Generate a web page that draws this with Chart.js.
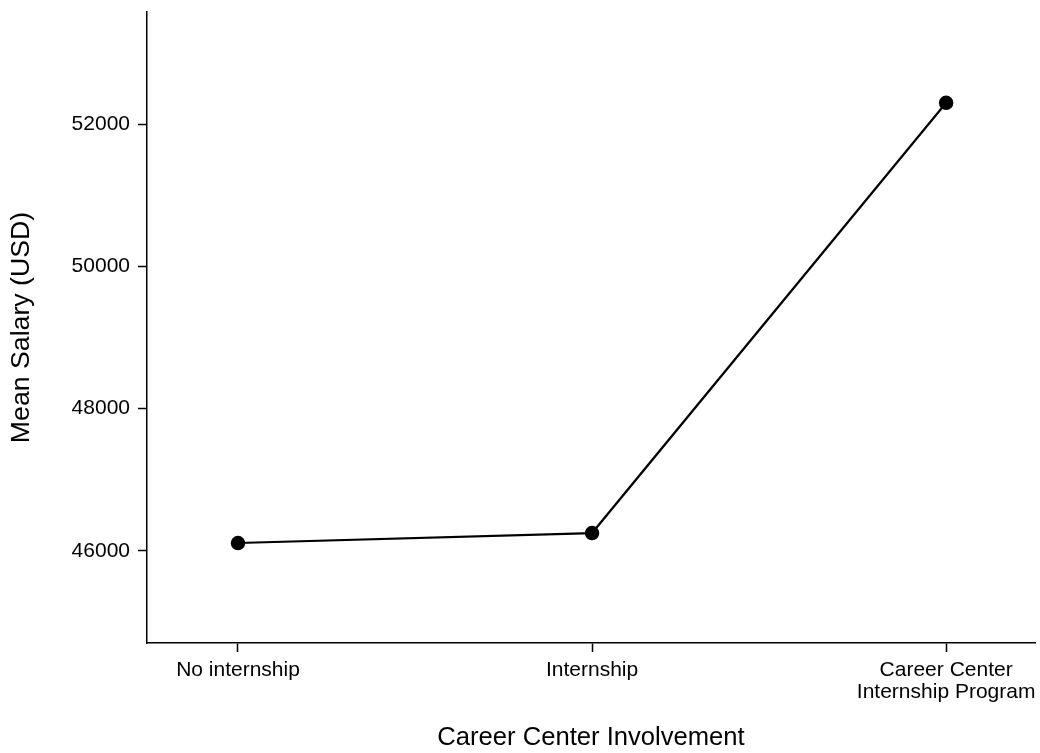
<!DOCTYPE html>
<html>
<head>
<meta charset="utf-8">
<script src="https://cdn.jsdelivr.net/npm/chart.js"></script>
<style>
  body { margin: 0; background: #fff; }
  canvas { display: block; }
</style>
</head>
<body>
<canvas id="chartSalary" width="1040" height="753"></canvas>
<script>
// categories and values
const categories = ['No internship', 'Internship', ['Career Center', 'Internship Program']];
const meanSalary = [46110, 46250, 52300];
const yTicks = [46000, 48000, 50000, 52000];
const xTicks = [0, 1, 2];

const points = meanSalary.map((v, i) => ({ x: i, y: v }));

let ctx = document.getElementById('chartSalary').getContext('2d');
let myChart = new Chart(ctx, {
    type: 'line',
    data: {
        datasets: [{
            data: points,
            borderColor: '#000',
            backgroundColor: '#000',
            borderWidth: 2.2,
            pointRadius: 6.5,
            pointBorderWidth: 1.5,
            tension: 0
        }]
    },
    options: {
        responsive: false,
        animation: false,
        layout: { autoPadding: false, padding: { top: 12, right: 5, left: 0, bottom: 0 } },
        plugins: { legend: { display: false }, tooltip: { enabled: false } },
        scales: {
            x: {
                type: 'linear',
                min: -0.257,
                max: 2.251,
                afterBuildTicks: s => { s.ticks = xTicks.map(v => ({ value: v })); },
                afterFit: s => { s.height = 110; s.paddingLeft = 0; s.paddingRight = 0; },
                border: { display: true, color: '#000', width: 1.5 },
                grid: { drawOnChartArea: false, tickLength: 9, tickWidth: 1.5, tickColor: '#000' },
                ticks: {
                    color: '#000',
                    padding: 7,
                    maxRotation: 0,
                    font: { family: 'Liberation Sans', size: 21, lineHeight: 1.05 },
                    callback: v => categories[v]
                },
                title: {
                    display: true,
                    text: 'Career Center Involvement',
                    color: '#000',
                    font: { family: 'Liberation Sans', size: 25.6 },
                    padding: { top: 11, bottom: 0 }
                }
            },
            y: {
                min: 44704,
                max: 53577,
                afterBuildTicks: s => { s.ticks = yTicks.map(v => ({ value: v })); },
                afterFit: s => { s.width = 147; s.paddingTop = 0; s.paddingBottom = 0; },
                border: { display: true, color: '#000', width: 1.5 },
                grid: { drawOnChartArea: false, tickLength: 9, tickWidth: 1.5, tickColor: '#000' },
                ticks: {
                    color: '#000',
                    padding: 8,
                    font: { family: 'Liberation Sans', size: 21 },
                    callback: v => String(v)
                },
                title: {
                    display: true,
                    text: 'Mean Salary (USD)',
                    color: '#000',
                    font: { family: 'Liberation Sans', size: 26.7 },
                    padding: { top: 6, bottom: 0 }
                }
            }
        }
    }
});
</script>
</body>
</html>
